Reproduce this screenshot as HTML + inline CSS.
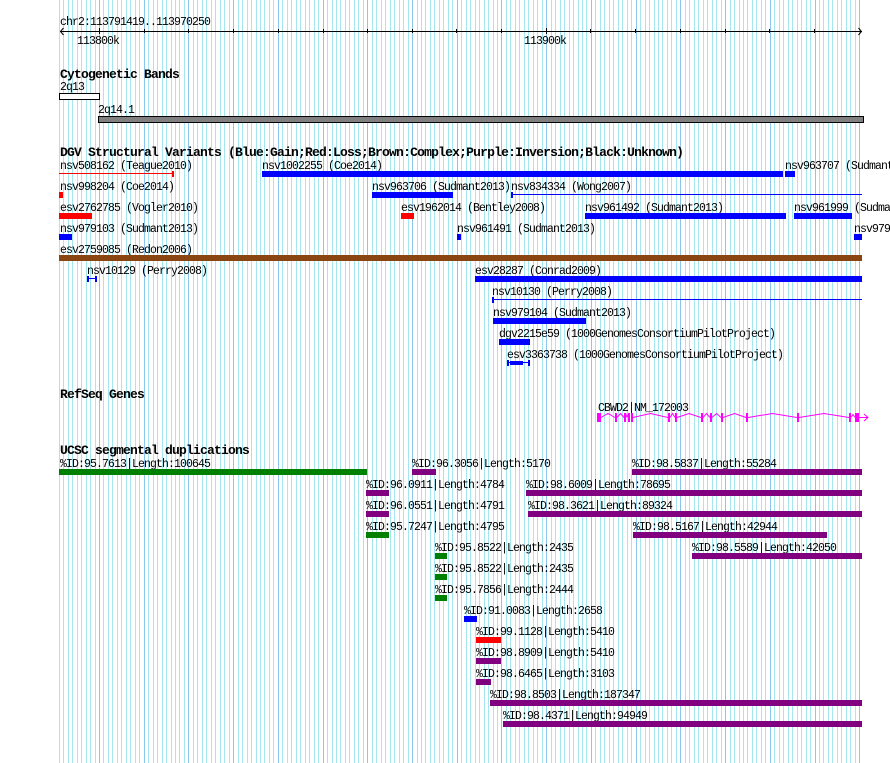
<!DOCTYPE html>
<html><head><meta charset="utf-8"><style>
html,body{margin:0;padding:0;background:#fff;overflow:hidden}
svg{display:block}
text{font-family:"Liberation Mono","DejaVu Sans Mono",monospace;font-size:11.5px;letter-spacing:-0.9px;fill:#000}
text.b{font-weight:bold;font-size:13px;letter-spacing:-0.8px}
</style></head><body>
<svg xmlns="http://www.w3.org/2000/svg" width="890" height="763" viewBox="0 0 890 763" shape-rendering="crispEdges">
<rect x="0" y="0" width="890" height="763" fill="#fff"/>
<!-- minor grid -->
<path stroke="#a6e6ee" stroke-width="1" fill="none" d="M59.5 0V763M63.5 0V763M68.5 0V763M72.5 0V763M77.5 0V763M81.5 0V763M86.5 0V763M90.5 0V763M95.5 0V763
M103.5 0V763M108.5 0V763M112.5 0V763M117.5 0V763M121.5 0V763M126.5 0V763M130.5 0V763M135.5 0V763M139.5 0V763
M148.5 0V763M153.5 0V763M157.5 0V763M162.5 0V763M166.5 0V763M171.5 0V763M175.5 0V763M179.5 0V763M184.5 0V763
M193.5 0V763M197.5 0V763M202.5 0V763M206.5 0V763M211.5 0V763M215.5 0V763M220.5 0V763M224.5 0V763M229.5 0V763
M238.5 0V763M242.5 0V763M247.5 0V763M251.5 0V763M256.5 0V763M260.5 0V763M264.5 0V763M269.5 0V763M273.5 0V763
M282.5 0V763M287.5 0V763M291.5 0V763M296.5 0V763M300.5 0V763M305.5 0V763M309.5 0V763M314.5 0V763M318.5 0V763
M327.5 0V763M332.5 0V763M336.5 0V763M340.5 0V763M345.5 0V763M349.5 0V763M354.5 0V763M358.5 0V763M363.5 0V763
M372.5 0V763M376.5 0V763M381.5 0V763M385.5 0V763M390.5 0V763M394.5 0V763M399.5 0V763M403.5 0V763M408.5 0V763
M417.5 0V763M421.5 0V763M425.5 0V763M430.5 0V763M434.5 0V763M439.5 0V763M443.5 0V763M448.5 0V763M452.5 0V763
M461.5 0V763M466.5 0V763M470.5 0V763M475.5 0V763M479.5 0V763M484.5 0V763M488.5 0V763M493.5 0V763M497.5 0V763
M506.5 0V763M510.5 0V763M515.5 0V763M519.5 0V763M524.5 0V763M528.5 0V763M533.5 0V763M537.5 0V763M542.5 0V763
M551.5 0V763M555.5 0V763M560.5 0V763M564.5 0V763M569.5 0V763M573.5 0V763M578.5 0V763M582.5 0V763M586.5 0V763
M595.5 0V763M600.5 0V763M604.5 0V763M609.5 0V763M613.5 0V763M618.5 0V763M622.5 0V763M627.5 0V763M631.5 0V763
M640.5 0V763M645.5 0V763M649.5 0V763M654.5 0V763M658.5 0V763M662.5 0V763M667.5 0V763M671.5 0V763M676.5 0V763
M685.5 0V763M689.5 0V763M694.5 0V763M698.5 0V763M703.5 0V763M707.5 0V763M712.5 0V763M716.5 0V763M721.5 0V763
M730.5 0V763M734.5 0V763M739.5 0V763M743.5 0V763M747.5 0V763M752.5 0V763M756.5 0V763M761.5 0V763M765.5 0V763
M774.5 0V763M779.5 0V763M783.5 0V763M788.5 0V763M792.5 0V763M797.5 0V763M801.5 0V763M806.5 0V763M810.5 0V763
M819.5 0V763M823.5 0V763M828.5 0V763M832.5 0V763M837.5 0V763M841.5 0V763M846.5 0V763M850.5 0V763M855.5 0V763"/>
<!-- major grid -->
<path stroke="#8cc6ee" stroke-width="1" fill="none" d="M99.5 0V763M144.5 0V763M188.5 0V763M233.5 0V763M278.5 0V763M323.5 0V763M367.5 0V763M412.5 0V763M457.5 0V763M501.5 0V763M546.5 0V763M591.5 0V763M636.5 0V763M680.5 0V763M725.5 0V763M770.5 0V763M815.5 0V763M859.5 0V763"/>

<!-- ruler -->
<text x="60" y="25">chr2:113791419..113970250</text>
<rect x="60" y="31" width="802" height="1" fill="#000"/>
<path d="M63.5 28L60.5 31.5L63.5 35M858.5 28L861.5 31.5L858.5 35" stroke="#000" fill="none" stroke-width="1" shape-rendering="auto"/>
<g fill="#000">
<rect x="99" y="28" width="1" height="6"/>
<rect x="144" y="29" width="1" height="4"/>
<rect x="188" y="29" width="1" height="4"/>
<rect x="233" y="29" width="1" height="4"/>
<rect x="278" y="29" width="1" height="4"/>
<rect x="323" y="29" width="1" height="4"/>
<rect x="367" y="29" width="1" height="4"/>
<rect x="412" y="29" width="1" height="4"/>
<rect x="456" y="29" width="1" height="4"/>
<rect x="501" y="29" width="1" height="4"/>
<rect x="546" y="28" width="1" height="6"/>
<rect x="590" y="29" width="1" height="4"/>
<rect x="635" y="29" width="1" height="4"/>
<rect x="680" y="29" width="1" height="4"/>
<rect x="725" y="29" width="1" height="4"/>
<rect x="769" y="29" width="1" height="4"/>
<rect x="814" y="29" width="1" height="4"/>
</g>
<text x="77" y="44">113800k</text>
<text x="524" y="44">113900k</text>

<!-- Cytogenetic bands -->
<text class="b" x="60" y="78">Cytogenetic Bands</text>
<text x="60" y="90">2q13</text>
<rect x="59.5" y="93.5" width="40" height="6" fill="#fff" stroke="#000" stroke-width="1"/>
<text x="98" y="113">2q14.1</text>
<rect x="98.5" y="116.5" width="765" height="6" fill="#808080" stroke="#000" stroke-width="1"/>

<!-- DGV -->
<text class="b" x="60" y="156">DGV Structural Variants (Blue:Gain;Red:Loss;Brown:Complex;Purple:Inversion;Black:Unknown)</text>
<!-- row1 -->
<text x="60" y="169">nsv508162 (Teague2010)</text>
<rect x="59" y="173" width="114" height="1" fill="#f00"/>
<rect x="172" y="171" width="2" height="6" fill="#f00"/>
<text x="262" y="169">nsv1002255 (Coe2014)</text>
<rect x="262" y="171" width="521" height="6" fill="#00f"/>
<text x="785" y="169">nsv963707 (Sudmant2013)</text>
<rect x="785" y="171" width="10" height="6" fill="#00f"/>
<!-- row2 -->
<text x="60" y="190">nsv998204 (Coe2014)</text>
<rect x="59" y="192" width="4" height="6" fill="#f00"/>
<text x="372" y="190">nsv963706 (Sudmant2013)</text>
<rect x="372" y="192" width="81" height="6" fill="#00f"/>
<text x="511" y="190">nsv834334 (Wong2007)</text>
<rect x="511" y="194" width="351" height="1" fill="#00f"/>
<rect x="511" y="192" width="2" height="6" fill="#00f"/>
<!-- row3 -->
<text x="60" y="211">esv2762785 (Vogler2010)</text>
<rect x="59" y="213" width="33" height="6" fill="#f00"/>
<text x="401" y="211">esv1962014 (Bentley2008)</text>
<rect x="401" y="213" width="13" height="6" fill="#f00"/>
<text x="585" y="211">nsv961492 (Sudmant2013)</text>
<rect x="585" y="213" width="201" height="6" fill="#00f"/>
<text x="794" y="211">nsv961999 (Sudmant2013)</text>
<rect x="794" y="213" width="58" height="6" fill="#00f"/>
<!-- row4 -->
<text x="60" y="232">nsv979103 (Sudmant2013)</text>
<rect x="59" y="234" width="13" height="6" fill="#00f"/>
<text x="457" y="232">nsv961491 (Sudmant2013)</text>
<rect x="457" y="234" width="4" height="6" fill="#00f"/>
<text x="854" y="232">nsv979105 (Sudmant2013)</text>
<rect x="854" y="234" width="8" height="6" fill="#00f"/>
<!-- row5 -->
<text x="60" y="253">esv2759085 (Redon2006)</text>
<rect x="59" y="255" width="803" height="6" fill="#8b4513"/>
<!-- row6 -->
<text x="87" y="274">nsv10129 (Perry2008)</text>
<rect x="87" y="276" width="2" height="6" fill="#00f"/>
<rect x="95" y="276" width="2" height="6" fill="#00f"/>
<rect x="87" y="278" width="10" height="1" fill="#00f"/>
<text x="475" y="274">esv28287 (Conrad2009)</text>
<rect x="475" y="276" width="387" height="6" fill="#00f"/>
<!-- row7 -->
<text x="492" y="295">nsv10130 (Perry2008)</text>
<rect x="492" y="299" width="370" height="1" fill="#00f"/>
<rect x="492" y="297" width="2" height="6" fill="#00f"/>
<!-- row8 -->
<text x="493" y="316">nsv979104 (Sudmant2013)</text>
<rect x="493" y="318" width="93" height="6" fill="#00f"/>
<!-- row9 -->
<text x="499" y="337">dgv2215e59 (1000GenomesConsortiumPilotProject)</text>
<rect x="499" y="339" width="31" height="6" fill="#00f"/>
<!-- row10 -->
<text x="507" y="358">esv3363738 (1000GenomesConsortiumPilotProject)</text>
<rect x="507" y="360" width="2" height="6" fill="#00f"/>
<rect x="528" y="360" width="2" height="6" fill="#00f"/>
<rect x="507" y="362" width="23" height="1" fill="#00f"/>
<rect x="510" y="361" width="13" height="4" fill="#00f"/>

<!-- RefSeq -->
<text class="b" x="60" y="398">RefSeq Genes</text>
<text x="598" y="411">CBWD2|NM_172003</text>
<g fill="#f0f">
<rect x="597" y="413" width="4" height="9"/>
<rect x="615" y="413" width="2" height="9"/>
<rect x="624" y="413" width="2" height="9"/>
<rect x="628" y="413" width="2" height="9"/>
<rect x="631" y="413" width="2" height="9"/>
<rect x="668" y="413" width="2" height="9"/>
<rect x="675" y="413" width="2" height="9"/>
<rect x="701" y="413" width="2" height="9"/>
<rect x="710" y="413" width="2" height="9"/>
<rect x="721" y="413" width="2" height="9"/>
<rect x="746" y="413" width="2" height="9"/>
<rect x="797" y="413" width="2" height="9"/>
<rect x="849" y="413" width="2" height="9"/>
<rect x="855" y="413" width="4" height="9"/>
</g>
<path fill="none" stroke="#f0f" stroke-width="1" shape-rendering="auto" d="M601 417.5L608 413.5L615 417.5M617 417.5L620.5 413.5L624 417.5M626 417.5L627 414.5L628 417.5M633 417.5L650.5 413.5L668 417.5M670 417.5L672.5 413.5L675 417.5M677 417.5L689 413.5L701 417.5M703 417.5L706.5 413.5L710 417.5M712 417.5L716.5 413.5L721 417.5M723 417.5L734.5 413.5L746 417.5M748 417.5L772.5 413.5L797 417.5M799 417.5L824 413.5L849 417.5M851 417.5L853 414.5L855 417.5M859 417.5H868M864 414L868 417.5L864 421"/>

<!-- UCSC segmental duplications -->
<text class="b" x="60" y="454">UCSC segmental duplications</text>
<text x="60" y="467">%ID:95.7613|Length:100645</text>
<rect x="59" y="469" width="308" height="6" fill="#008000"/>
<text x="412" y="467">%ID:96.3056|Length:5170</text>
<rect x="412" y="469" width="24" height="6" fill="#800080"/>
<text x="632" y="467">%ID:98.5837|Length:55284</text>
<rect x="632" y="469" width="230" height="6" fill="#800080"/>

<text x="366" y="488">%ID:96.0911|Length:4784</text>
<rect x="366" y="490" width="23" height="6" fill="#800080"/>
<text x="526" y="488">%ID:98.6009|Length:78695</text>
<rect x="526" y="490" width="336" height="6" fill="#800080"/>

<text x="366" y="509">%ID:96.0551|Length:4791</text>
<rect x="366" y="511" width="23" height="6" fill="#800080"/>
<text x="528" y="509">%ID:98.3621|Length:89324</text>
<rect x="528" y="511" width="334" height="6" fill="#800080"/>

<text x="366" y="530">%ID:95.7247|Length:4795</text>
<rect x="366" y="532" width="23" height="6" fill="#008000"/>
<text x="633" y="530">%ID:98.5167|Length:42944</text>
<rect x="633" y="532" width="194" height="6" fill="#800080"/>

<text x="435" y="551">%ID:95.8522|Length:2435</text>
<rect x="435" y="553" width="12" height="6" fill="#008000"/>
<text x="692" y="551">%ID:98.5589|Length:42050</text>
<rect x="692" y="553" width="170" height="6" fill="#800080"/>

<text x="435" y="572">%ID:95.8522|Length:2435</text>
<rect x="435" y="574" width="12" height="6" fill="#008000"/>

<text x="435" y="593">%ID:95.7856|Length:2444</text>
<rect x="435" y="595" width="12" height="6" fill="#008000"/>

<text x="464" y="614">%ID:91.0083|Length:2658</text>
<rect x="464" y="616" width="13" height="6" fill="#00f"/>

<text x="476" y="635">%ID:99.1128|Length:5410</text>
<rect x="476" y="637" width="25" height="6" fill="#f00"/>

<text x="476" y="656">%ID:98.8909|Length:5410</text>
<rect x="476" y="658" width="25" height="6" fill="#800080"/>

<text x="476" y="677">%ID:98.6465|Length:3103</text>
<rect x="476" y="679" width="15" height="6" fill="#800080"/>

<text x="490" y="698">%ID:98.8503|Length:187347</text>
<rect x="490" y="700" width="372" height="6" fill="#800080"/>

<text x="503" y="719">%ID:98.4371|Length:94949</text>
<rect x="503" y="721" width="359" height="6" fill="#800080"/>
</svg>
</body></html>
